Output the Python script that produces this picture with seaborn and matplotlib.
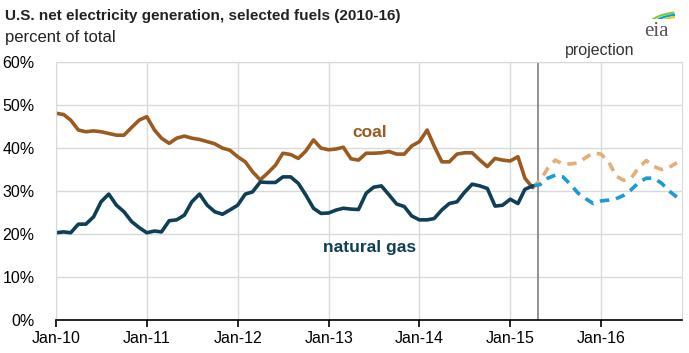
import pandas as pd
import numpy as np
import matplotlib
matplotlib.use('Agg')
import matplotlib.pyplot as plt
import matplotlib.dates as mdates
from matplotlib.patches import Arc
import seaborn as sns

# monthly shares, percent of total generation
hist_start = '2010-01-01'
coal_hist = [48.1, 47.8, 46.5, 44.2, 43.8, 44.0, 43.8, 43.4, 43.0, 43.0, 44.8, 46.5,
             47.3, 44.2, 42.3, 41.1, 42.3, 42.8, 42.3, 42.0, 41.5, 41.0, 40.0, 39.5,
             38.0, 36.8, 34.5, 32.6, 34.2, 36.0, 38.8, 38.5, 37.6, 39.3, 41.9, 40.0,
             39.6, 39.8, 40.2, 37.5, 37.2, 38.8, 38.8, 38.9, 39.2, 38.6, 38.6, 40.5,
             41.5, 44.2, 40.5, 36.8, 36.8, 38.6, 38.9, 38.9, 37.2, 35.7, 37.6, 37.2,
             37.0, 38.0, 33.0, 30.8]
gas_hist = [20.3, 20.5, 20.3, 22.3, 22.3, 24.0, 27.5, 29.3, 26.7, 25.2, 22.9, 21.5,
            20.3, 20.7, 20.5, 23.1, 23.3, 24.4, 27.5, 29.3, 26.7, 25.2, 24.6, 25.6,
            26.7, 29.3, 29.8, 32.1, 32.0, 32.0, 33.3, 33.3, 31.8, 29.1, 26.0, 24.8,
            24.9, 25.6, 26.0, 25.8, 25.7, 29.5, 30.9, 31.2, 29.1, 27.0, 26.4, 24.2,
            23.3, 23.3, 23.6, 25.6, 27.1, 27.5, 29.7, 31.6, 31.2, 30.6, 26.5, 26.7,
            28.1, 27.1, 30.4, 31.2]

proj_start = '2015-04-01'
coal_proj = [30.8, 32.5, 35.3, 37.2, 36.3, 36.3, 36.6, 37.8, 38.9, 38.6, 36.8,
             33.5, 32.5, 33.0, 35.5, 37.1, 35.7, 35.0, 35.5, 36.6]
gas_proj = [31.2, 31.5, 33.0, 33.7, 33.3, 31.5, 29.5, 28.2, 27.1, 27.7, 27.9,
            28.2, 29.0, 30.3, 32.0, 33.0, 33.0, 31.8, 30.0, 28.6]

year_ticks = ['2010', '2011', '2012', '2013', '2014', '2015', '2016']
y_ticks = [0, 10, 20, 30, 40, 50, 60]

hist = pd.DataFrame({'date': pd.date_range(hist_start, periods=len(coal_hist), freq='MS'),
                     'coal': coal_hist, 'gas': gas_hist})
proj = pd.DataFrame({'date': pd.date_range(proj_start, periods=len(coal_proj), freq='MS'),
                     'coal': coal_proj, 'gas': gas_proj})

sns.set_style('white')
plt.rcParams['font.family'] = ['Liberation Sans', 'DejaVu Sans']

fig = plt.figure(figsize=(6.89, 3.53), dpi=100)
ax = fig.add_axes([0.0813, 0.0935, 0.9087, 0.7305])

c_coal, c_coal_p = '#9B5B20', '#E5AE76'
c_gas, c_gas_p = '#0E3F56', '#1B9AD7'

sns.lineplot(data=proj, x='date', y='coal', ax=ax, color=c_coal_p, lw=2.6)
sns.lineplot(data=proj, x='date', y='gas', ax=ax, color=c_gas_p, lw=2.6)
for l in ax.lines:
    l.set_linestyle((0, (2.6, 1.9)))
sns.lineplot(data=hist, x='date', y='coal', ax=ax, color=c_coal, lw=2.6)
sns.lineplot(data=hist, x='date', y='gas', ax=ax, color=c_gas, lw=2.6)

ax.axvline(pd.Timestamp('2015-04-22'), color='#808080', lw=1.2, zorder=1)

ax.set_ylim(0, 60)
ax.set_xlim(pd.Timestamp('2010-01-01'), pd.Timestamp('2016-11-22'))
ax.set_yticks(y_ticks)
ax.set_yticklabels([f'{v}%' for v in y_ticks])
ax.set_xticks([pd.Timestamp(y + '-01-01') for y in year_ticks])
ax.xaxis.set_major_formatter(mdates.DateFormatter('%b-%y'))
ax.set_xlabel('')
ax.set_ylabel('')
ax.grid(True, color='#D9D9D9', lw=1.0)
ax.set_axisbelow(True)
for s in ['left', 'right', 'top']:
    ax.spines[s].set_color('#D9D9D9')
ax.spines['bottom'].set_color('black')
ax.spines['bottom'].set_linewidth(1.2)
ax.tick_params(axis='x', bottom=True, length=5, width=1.2, color='black',
               labelsize=11.5, pad=3, labelcolor='black')
ax.tick_params(axis='y', left=False, labelsize=11.5, pad=12, labelcolor='black')

ax.text(pd.Timestamp('2013-06-15'), 43.6, 'coal', color=c_coal, fontsize=12.5,
        fontweight='bold', ha='center', va='center')
ax.text(pd.Timestamp('2013-06-15'), 16.8, 'natural gas', color=c_gas, fontsize=12.5,
        fontweight='bold', ha='center', va='center')

fig.text(0.007, 0.955, 'U.S. net electricity generation, selected fuels (2010-16)',
         fontsize=11, fontweight='bold', ha='left', va='center', color='#222222')
fig.text(0.007, 0.893, 'percent of total', fontsize=12, ha='left', va='center', color='#222222')
fig.text(0.871, 0.857, 'projection', fontsize=11.5, ha='center', va='center', color='#333333')

# eia logo
fig.text(0.952, 0.91, 'eia', fontsize=15, ha='center', va='center', color='#555555',
         family=['Liberation Serif', 'DejaVu Serif'])
lax = fig.add_axes([0.93, 0.945, 0.05, 0.05])
lax.set_xlim(0, 1)
lax.set_ylim(0, 1)
lax.axis('off')
for d, col in [(2.0, '#8DC63F'), (1.75, '#00A3D9'), (1.5, '#F2C81B')]:
    lax.add_patch(Arc((1.15, -0.6), d, d, theta1=100, theta2=160, color=col, lw=1.6))

fig.savefig('out.png', dpi=100)
